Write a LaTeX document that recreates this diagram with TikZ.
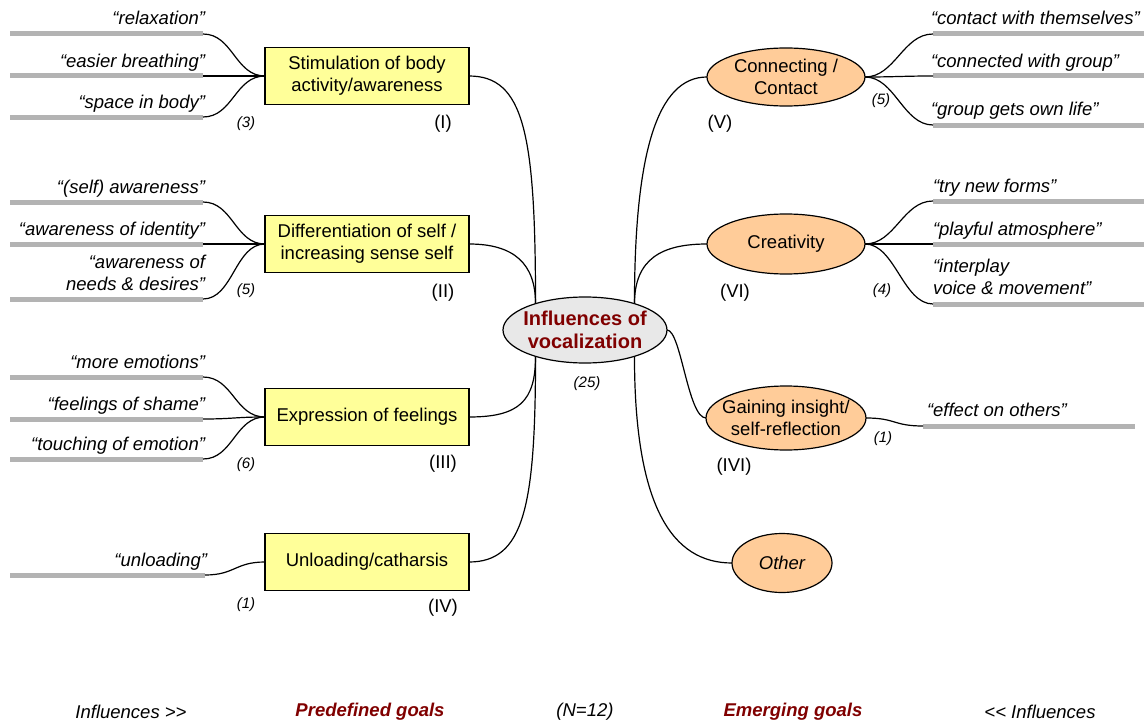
\documentclass[tikz,border=0pt]{standalone}
\usepackage{fontspec}
\setmainfont[Ligatures=TeXOff]{Liberation Sans}
\usetikzlibrary{shapes.geometric}
\definecolor{boxfill}{HTML}{FFFF99}
\definecolor{peach}{HTML}{FFCC99}
\definecolor{hubfill}{HTML}{E8E8E8}
\definecolor{darkred}{HTML}{800000}
\definecolor{bargray}{HTML}{B3B3B3}

\begin{document}
\begin{tikzpicture}[x=1pt,y=-1pt,
  every node/.style={inner sep=0pt, outer sep=0pt},
  goalbox/.style={rectangle, draw=black, line width=1.3pt, fill=boxfill,
    minimum width=204pt, minimum height=57pt, align=center,
    font=\fontsize{18.5}{22}\selectfont},
  emerge/.style={ellipse, draw=black, line width=1.2pt, fill=peach,
    minimum width=158pt, minimum height=60pt, align=center,
    font=\fontsize{18.5}{22}\selectfont},
  hub/.style={ellipse, draw=black, line width=1.2pt, fill=hubfill,
    minimum width=164pt, minimum height=66pt, inner xsep=-4pt, align=center,
    text=darkred, font=\fontsize{20}{23}\selectfont\bfseries},
  quote/.style={font=\fontsize{18.5}{22}\selectfont\itshape},
  count/.style={font=\fontsize{15}{18}\selectfont\itshape},
  roman/.style={font=\fontsize{18.5}{22}\selectfont},
  footer/.style={font=\fontsize{18.5}{22}\selectfont\itshape},
  goalhead/.style={font=\fontsize{18.5}{22}\selectfont\itshape\bfseries, text=darkred},
  bar/.style={rectangle, fill=bargray, minimum height=5pt},
  lbar/.style={bar, minimum width=193pt},
  rbar/.style={bar, minimum width=211pt},
  link/.style={draw=black, line width=1.2pt},
]
\useasboundingbox (0,0) rectangle (1144,725);

% ---------- central hub ----------
\node[hub] (hub) at (585,330) {Influences of\\vocalization};
\node[count] (n25) at (587,384) {(25)};

% ---------- predefined goals (left) ----------
\node[goalbox] (s1) at (367,76)  {Stimulation of body\\activity/awareness};
\node[goalbox] (s2) at (367,244) {Differentiation of self /\\increasing sense self};
\node[goalbox] (s3) at (367,417) {Expression of feelings};
\node[goalbox] (s4) at (367,562) {Unloading/catharsis};

\node[roman] (r1) at (443,124) {(I)};
\node[roman] (r2) at (443,293) {(II)};
\node[roman] (r3) at (443,464) {(III)};
\node[roman] (r4) at (443,608) {(IV)};

\node[count] (c1) at (246,124) {(3)};
\node[count] (c2) at (246,291) {(5)};
\node[count] (c3) at (246,465) {(6)};
\node[count] (c4) at (246,605) {(1)};

% bars with quoted influences, left side
\node[lbar] (a1) at (106.5,34)  {};
\node[lbar] (a2) at (106.5,76)  {};
\node[lbar] (a3) at (106.5,117) {};
\node[lbar] (b1) at (106.5,202) {};
\node[lbar] (b2) at (106.5,244) {};
\node[lbar] (b3) at (106.5,299) {};
\node[lbar] (d1) at (106.5,377) {};
\node[lbar] (d2) at (106.5,419) {};
\node[lbar] (d3) at (106.5,459) {};
\node[bar, minimum width=195pt] (e1) at (107.5,575) {};

\node[quote, anchor=base east] (qa1) at (205,25)  {“relaxation”};
\node[quote, anchor=base east] (qa2) at (205,67)  {“easier breathing”};
\node[quote, anchor=base east] (qa3) at (205,108) {“space in body”};
\node[quote, anchor=base east] (qb1) at (205,193) {“(self) awareness”};
\node[quote, anchor=base east] (qb2) at (205,235) {“awareness of identity”};
\node[quote, anchor=south east, align=right] (qb3) at (205,291) {“awareness of\\needs \& desires”};
\node[quote, anchor=base east] (qd1) at (205,368) {“more emotions”};
\node[quote, anchor=base east] (qd2) at (205,410) {“feelings of shame”};
\node[quote, anchor=base east] (qd3) at (205,450) {“touching of emotion”};
\node[quote, anchor=base east] (qe1) at (207,566) {“unloading”};

% ---------- emerging goals (right) ----------
\node[emerge, minimum height=58pt] (g5) at (786,77)  {Connecting /\\Contact};
\node[emerge] (g6) at (786,244) {Creativity};
\node[emerge, minimum width=160pt, minimum height=64pt, inner xsep=-9pt] (g7) at (786,418) {Gaining insight/\\self-reflection};
\node[emerge, minimum width=100pt, minimum height=59pt, font=\fontsize{18.5}{22}\selectfont\itshape] (g8) at (782,563) {Other};

\node[roman] (r5) at (720,124) {(V)};
\node[roman] (r6) at (735,293) {(VI)};
\node[roman] (r7) at (734,467) {(IVI)};

\node[count] (c5) at (881,101) {(5)};
\node[count] (c6) at (882,291) {(4)};
\node[count] (c7) at (883,439) {(1)};

% bars with quoted influences, right side
\node[rbar] (f1) at (1038.5,34)  {};
\node[rbar] (f2) at (1038.5,76)  {};
\node[rbar] (f3) at (1038.5,125) {};
\node[rbar] (h1) at (1038.5,201) {};
\node[rbar] (h2) at (1038.5,244) {};
\node[rbar] (h3) at (1038.5,304) {};
\node[bar, minimum width=212pt] (k1) at (1029,426) {};

\node[quote, anchor=base west] (qf1) at (931,25)  {“contact with themselves”};
\node[quote, anchor=base west] (qf2) at (931,67)  {“connected with group”};
\node[quote, anchor=base west] (qf3) at (931,115) {“group gets own life”};
\node[quote, anchor=base west] (qh1) at (933,192) {“try new forms”};
\node[quote, anchor=base west] (qh2) at (933,235) {“playful atmosphere”};
\node[quote, anchor=south west, align=left] (qh3) at (933,295) {“interplay\\voice \& movement”};
\node[quote, anchor=base west] (qk1) at (927,416) {“effect on others”};

% ---------- footer ----------
\node[footer]   (ft1) at (131,712) {Influences >>};
\node[goalhead] (ft2) at (370,712) {Predefined goals};
\node[footer]   (ft3) at (585,712) {(N=12)};
\node[goalhead] (ft4) at (793,712) {Emerging goals};
\node[footer]   (ft5) at (1040,712) {<< Influences};

% ---------- connectors ----------
% hub to predefined goals
\draw[link] (s1.east) .. controls +(55,0) and +(0,-170) .. (hub.152);
\draw[link] (s2.east) .. controls +(45,0) and +(0,-40) .. (hub.152);
\draw[link] (s3.east) .. controls +(50,0) and +(0,45) .. (hub.208);
\draw[link] (s4.east) .. controls +(55,0) and +(0,150) .. (hub.208);
% hub to emerging goals
\draw[link] (hub.28) .. controls +(0,-150) and +(-50,0) .. (g5.west);
\draw[link] (hub.28) .. controls +(0,-45) and +(-45,0) .. (g6.west);
\draw[link] (hub.east) .. controls +(14,0) and +(-18,0) .. (g7.west);
\draw[link] (hub.332) .. controls +(0,150) and +(-60,0) .. (g8.west);

% influences to predefined goals
\foreach \q/\g in {a1/s1,a2/s1,a3/s1,b1/s2,b2/s2,b3/s2,d1/s3,d2/s3,d3/s3,e1/s4}
  \draw[link] (\q.east) .. controls +(30,0) and +(-30,0) .. (\g.west);
% emerging goals to influences
\foreach \g/\q in {g5/f1,g5/f2,g5/f3,g6/h1,g6/h2,g6/h3,g7/k1}
  \draw[link] (\g.east) .. controls +(30,0) and +(-30,0) .. (\q.west);

\end{tikzpicture}
\end{document}
